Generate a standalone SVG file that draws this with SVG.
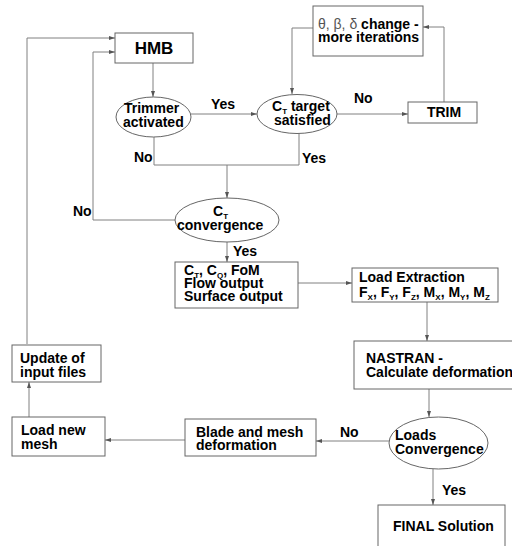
<svg xmlns="http://www.w3.org/2000/svg" width="512" height="546" viewBox="0 0 512 546">
<defs>
<marker id="ah" markerWidth="6" markerHeight="4" refX="6" refY="2" orient="auto" markerUnits="userSpaceOnUse">
<path d="M0,0 L6,2 L0,4 z" fill="#555"/>
</marker>
<style>
.box{fill:#fff;stroke:#666;stroke-width:1}
.con{fill:none;stroke:#808080;stroke-width:1}
.arr{fill:none;stroke:#808080;stroke-width:1;marker-end:url(#ah)}
text{font-family:"Liberation Sans",Arial,sans-serif;font-weight:bold;font-size:14px;fill:#000}
.big{font-size:17px}
.sub{font-size:8px}
.thin{font-weight:normal;fill:#555}
</style>
</defs>
<rect width="512" height="546" fill="#fff"/>
<g id="connectors">
<polyline class="arr" points="27,344 27,38 115,38"/>
<polyline class="arr" points="175,220 93,220 93,52 115,52"/>
<line class="arr" x1="153" y1="63" x2="153" y2="97"/>
<line class="arr" x1="191" y1="114" x2="257" y2="114"/>
<polyline class="con" points="154,137 154,165 299,165 299,133"/>
<line class="arr" x1="227" y1="165" x2="227" y2="198"/>
<line class="arr" x1="337" y1="114" x2="408" y2="114"/>
<polyline class="arr" points="444,102 444,27 423,27"/>
<polyline class="arr" points="313,28 292,28 292,94"/>
<line class="arr" x1="227" y1="242" x2="227" y2="262"/>
<line class="arr" x1="298" y1="283" x2="352" y2="283"/>
<line class="arr" x1="427" y1="302" x2="427" y2="341"/>
<line class="arr" x1="429" y1="389" x2="429" y2="417"/>
<line class="arr" x1="389" y1="441" x2="316" y2="441"/>
<line class="arr" x1="185" y1="440" x2="105" y2="440"/>
<line class="arr" x1="29" y1="417" x2="29" y2="382"/>
<line class="arr" x1="433" y1="469" x2="433" y2="505"/>
</g>
<g id="labels">
<text x="211" y="109">Yes</text>
<text x="134" y="162">No</text>
<text x="354" y="103">No</text>
<text x="302" y="163">Yes</text>
<text x="73" y="216">No</text>
<text x="233" y="256">Yes</text>
<text x="340" y="437">No</text>
<text x="442" y="495">Yes</text>
</g>
<g id="hmb">
<rect class="box" x="115" y="33" width="78" height="30"/>
<text class="big" x="154" y="54" text-anchor="middle">HMB</text>
</g>
<g id="trimmer">
<ellipse class="box" cx="153.5" cy="117" rx="37.5" ry="20"/>
<text x="124" y="113">Trimmer</text>
<text x="123" y="127">activated</text>
</g>
<g id="ct-target">
<ellipse class="box" cx="297" cy="114" rx="40" ry="19.5"/>
<text x="272" y="111">C<tspan class="sub" dy="3">T</tspan><tspan dy="-3"> target</tspan></text>
<text x="274" y="125">satisfied</text>
</g>
<g id="trim">
<rect class="box" x="408" y="102" width="69" height="21"/>
<text x="444" y="117" text-anchor="middle">TRIM</text>
</g>
<g id="change">
<rect class="box" x="313" y="6" width="110" height="50"/>
<text x="318" y="29"><tspan class="thin">θ, β, δ</tspan> change -</text>
<text x="318" y="42">more iterations</text>
</g>
<g id="ct-convergence">
<ellipse class="box" cx="227" cy="220" rx="52" ry="22"/>
<text x="213" y="216">C<tspan class="sub" dy="3">T</tspan></text>
<text x="177" y="230">convergence</text>
</g>
<g id="output">
<rect class="box" x="175" y="262" width="123" height="46"/>
<text x="184" y="275">C<tspan class="sub" dy="3">T</tspan><tspan dy="-3">, C</tspan><tspan class="sub" dy="3">Q</tspan><tspan dy="-3">, FoM</tspan></text>
<text x="184" y="288">Flow output</text>
<text x="184" y="301">Surface output</text>
</g>
<g id="load-extraction">
<rect class="box" x="352" y="268" width="146" height="34"/>
<text x="359" y="282">Load Extraction</text>
<text x="359" y="297">F<tspan class="sub" dy="3">X</tspan><tspan dy="-3">, F</tspan><tspan class="sub" dy="3">Y</tspan><tspan dy="-3">, F</tspan><tspan class="sub" dy="3">Z</tspan><tspan dy="-3">, M</tspan><tspan class="sub" dy="3">X</tspan><tspan dy="-3">, M</tspan><tspan class="sub" dy="3">Y</tspan><tspan dy="-3">, M</tspan><tspan class="sub" dy="3">Z</tspan></text>
</g>
<g id="nastran">
<rect class="box" x="354" y="341" width="170" height="48"/>
<text x="366" y="363">NASTRAN -</text>
<text x="366" y="377">Calculate deformation</text>
</g>
<g id="loads-convergence">
<ellipse class="box" cx="438.5" cy="443" rx="49.5" ry="26"/>
<text x="395" y="440">Loads</text>
<text x="395" y="454">Convergence</text>
</g>
<g id="blade">
<rect class="box" x="185" y="419" width="131" height="37"/>
<text x="196" y="437">Blade and mesh</text>
<text x="196" y="450">deformation</text>
</g>
<g id="load-new-mesh">
<rect class="box" x="12" y="417" width="93" height="39"/>
<text x="21" y="435">Load new</text>
<text x="21" y="449">mesh</text>
</g>
<g id="update">
<rect class="box" x="12" y="345" width="89" height="37"/>
<text x="20" y="363">Update of</text>
<text x="20" y="377">input files</text>
</g>
<g id="final">
<rect class="box" x="378" y="505" width="127" height="50"/>
<text x="393" y="531">FINAL Solution</text>
</g>
</svg>
